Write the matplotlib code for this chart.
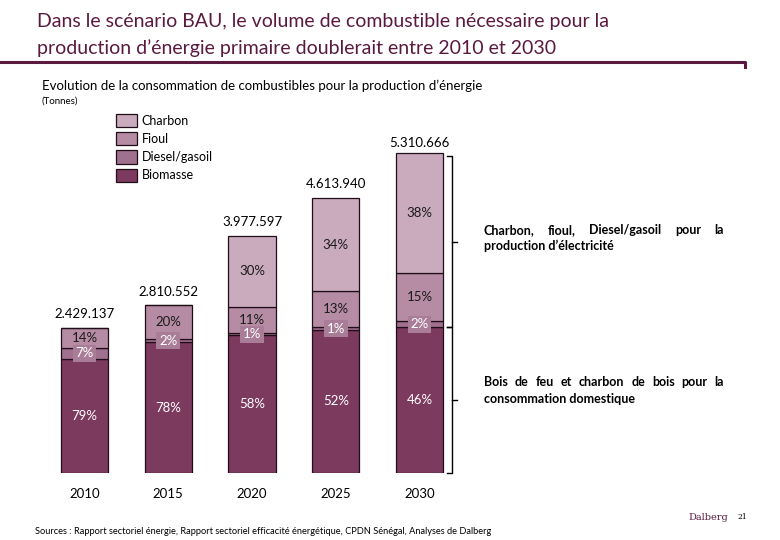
import numpy as np
import matplotlib
matplotlib.use("Agg")
import matplotlib.pyplot as plt
from matplotlib.lines import Line2D

plt.rcParams['font.family'] = ['Lato', 'DejaVu Sans']

# data
years = ['2010', '2015', '2020', '2025', '2030']
totals = [2429137, 2810552, 3977597, 4613940, 5310666]
total_labels = ['2.429.137', '2.810.552', '3.977.597', '4.613.940', '5.310.666']
series = ['Biomasse', 'Diesel/gasoil', 'Fioul', 'Charbon']
shares = {
    'Biomasse': [79, 78, 58, 52, 46],
    'Diesel/gasoil': [7, 2, 1, 1, 2],
    'Fioul': [14, 20, 11, 13, 15],
    'Charbon': [0, 0, 30, 34, 38],
}
colors = {
    'Biomasse': '#7D3A5F',
    'Diesel/gasoil': '#A0708F',
    'Fioul': '#B68CA5',
    'Charbon': '#CAABBE',
}
txtcol = {'Biomasse': 'white', 'Diesel/gasoil': 'white', 'Fioul': '#1a1a1a', 'Charbon': '#1a1a1a'}

W, H = 780, 540
fig = plt.figure(figsize=(W / 100, H / 100), dpi=100)

def px(x, y):
    return x / W, 1 - y / H

purple = '#5A1A40'

# title
fig.text(*px(37, 22), "Dans le scénario BAU, le volume de combustible nécessaire pour la",
         fontsize=14, color=purple, va='center')
fig.text(*px(37, 48), "production d’énergie primaire doublerait entre 2010 et 2030",
         fontsize=14, color=purple, va='center')
fig.add_artist(Line2D([0, 745 / W, 745 / W], [1 - 62 / H, 1 - 62 / H, 1 - 67 / H],
                      color=purple, lw=2.2))
fig.text(*px(42, 86), "Evolution de la consommation de combustibles pour la production d’énergie",
         fontsize=9.5, va='center')
fig.text(*px(42, 101), "(Tonnes)", fontsize=7, va='center')

# axes placed so that bars land where the reference puts them
step = 83.75
ax_left, ax_bottom_px, ax_h_px = 84.5 - step / 2, 473, 363
ax = fig.add_axes([ax_left / W, 1 - ax_bottom_px / H, 5 * step / W, ax_h_px / H])
ax.set_xlim(-0.5, 4.5)
ax.set_ylim(0, ax_h_px * 16770)
ax.axis('off')

x = np.arange(len(years))
bw = 0.565
bottom = np.zeros(len(years))
handles = {}
for s in series:
    vals = np.array(shares[s]) / 100 * np.array(totals)
    bars = ax.bar(x, vals, bw, bottom=bottom, color=colors[s], edgecolor='#1f0d17', linewidth=0.9,
                  label=s)
    handles[s] = bars
    for i, v in enumerate(vals):
        if shares[s][i] == 0:
            continue
        yc = bottom[i] + v / 2
        if s == 'Diesel/gasoil':
            ax.text(x[i], yc, f"{shares[s][i]}%", ha='center', va='center', fontsize=9.5,
                    color='white',
                    bbox=dict(boxstyle='square,pad=0.2', fc='#A97D98', ec='none'))
        else:
            ax.text(x[i], yc, f"{shares[s][i]}%", ha='center', va='center', fontsize=9.5,
                    color=txtcol[s])
    bottom += vals

for i, t in enumerate(totals):
    ax.text(x[i], t + 130000, total_labels[i], ha='center', va='bottom', fontsize=9.5)
    ax.text(x[i], -360000, years[i], ha='center', va='center', fontsize=9.5)

# brackets next to the 2030 bar
bio_top = shares['Biomasse'][-1] / 100 * totals[-1]
bx, tk = 4.39, 0.06
for lo, hi in [(0, bio_top), (bio_top, totals[-1])]:
    ax.plot([bx - tk, bx, bx, bx - tk], [lo, lo, hi, hi], color='black', lw=1, clip_on=False)
    ax.plot([bx, bx + tk], [(lo + hi) / 2] * 2, color='black', lw=1, clip_on=False)

leg = ax.legend([handles[s] for s in series[::-1]], series[::-1], loc='upper left',
                bbox_to_anchor=(116 / W, 1 - 114 / H), bbox_transform=fig.transFigure,
                frameon=False, fontsize=9, handlelength=1.7, handleheight=1.25,
                labelspacing=0.4, handletextpad=0.35, borderpad=0, borderaxespad=0)

# justified side notes
renderer = fig.canvas.get_renderer()

def justified(line, x0, x1, y, **kw):
    words = line.split()
    texts = [fig.text(0, 0, w, va='center', **kw) for w in words]
    widths = [t.get_window_extent(renderer).width for t in texts]
    gap = (x1 - x0 - sum(widths)) / (len(words) - 1)
    xx = x0
    for t, w in zip(texts, widths):
        t.set_position(px(xx, y))
        xx += w + gap

note_kw = dict(fontsize=9, fontweight='bold')
justified("Charbon, fioul, Diesel/gasoil pour la", 484, 724, 230, **note_kw)
fig.text(*px(484, 246), "production d’électricité", va='center', **note_kw)
justified("Bois de feu et charbon de bois pour la", 484, 724, 382, **note_kw)
fig.text(*px(484, 399), "consommation domestique", va='center', **note_kw)

fig.text(*px(35, 531), "Sources : Rapport sectoriel énergie, Rapport sectoriel efficacité énergétique, CPDN Sénégal, Analyses de Dalberg",
         fontsize=6.7, va='center')
fig.text(*px(688, 518), "Dalberg", fontsize=7, family='DejaVu Serif', color=purple, va='center')
fig.text(*px(737, 517), "21", fontsize=5.5, family='DejaVu Serif', va='center')

fig.savefig('out.png', dpi=100)
